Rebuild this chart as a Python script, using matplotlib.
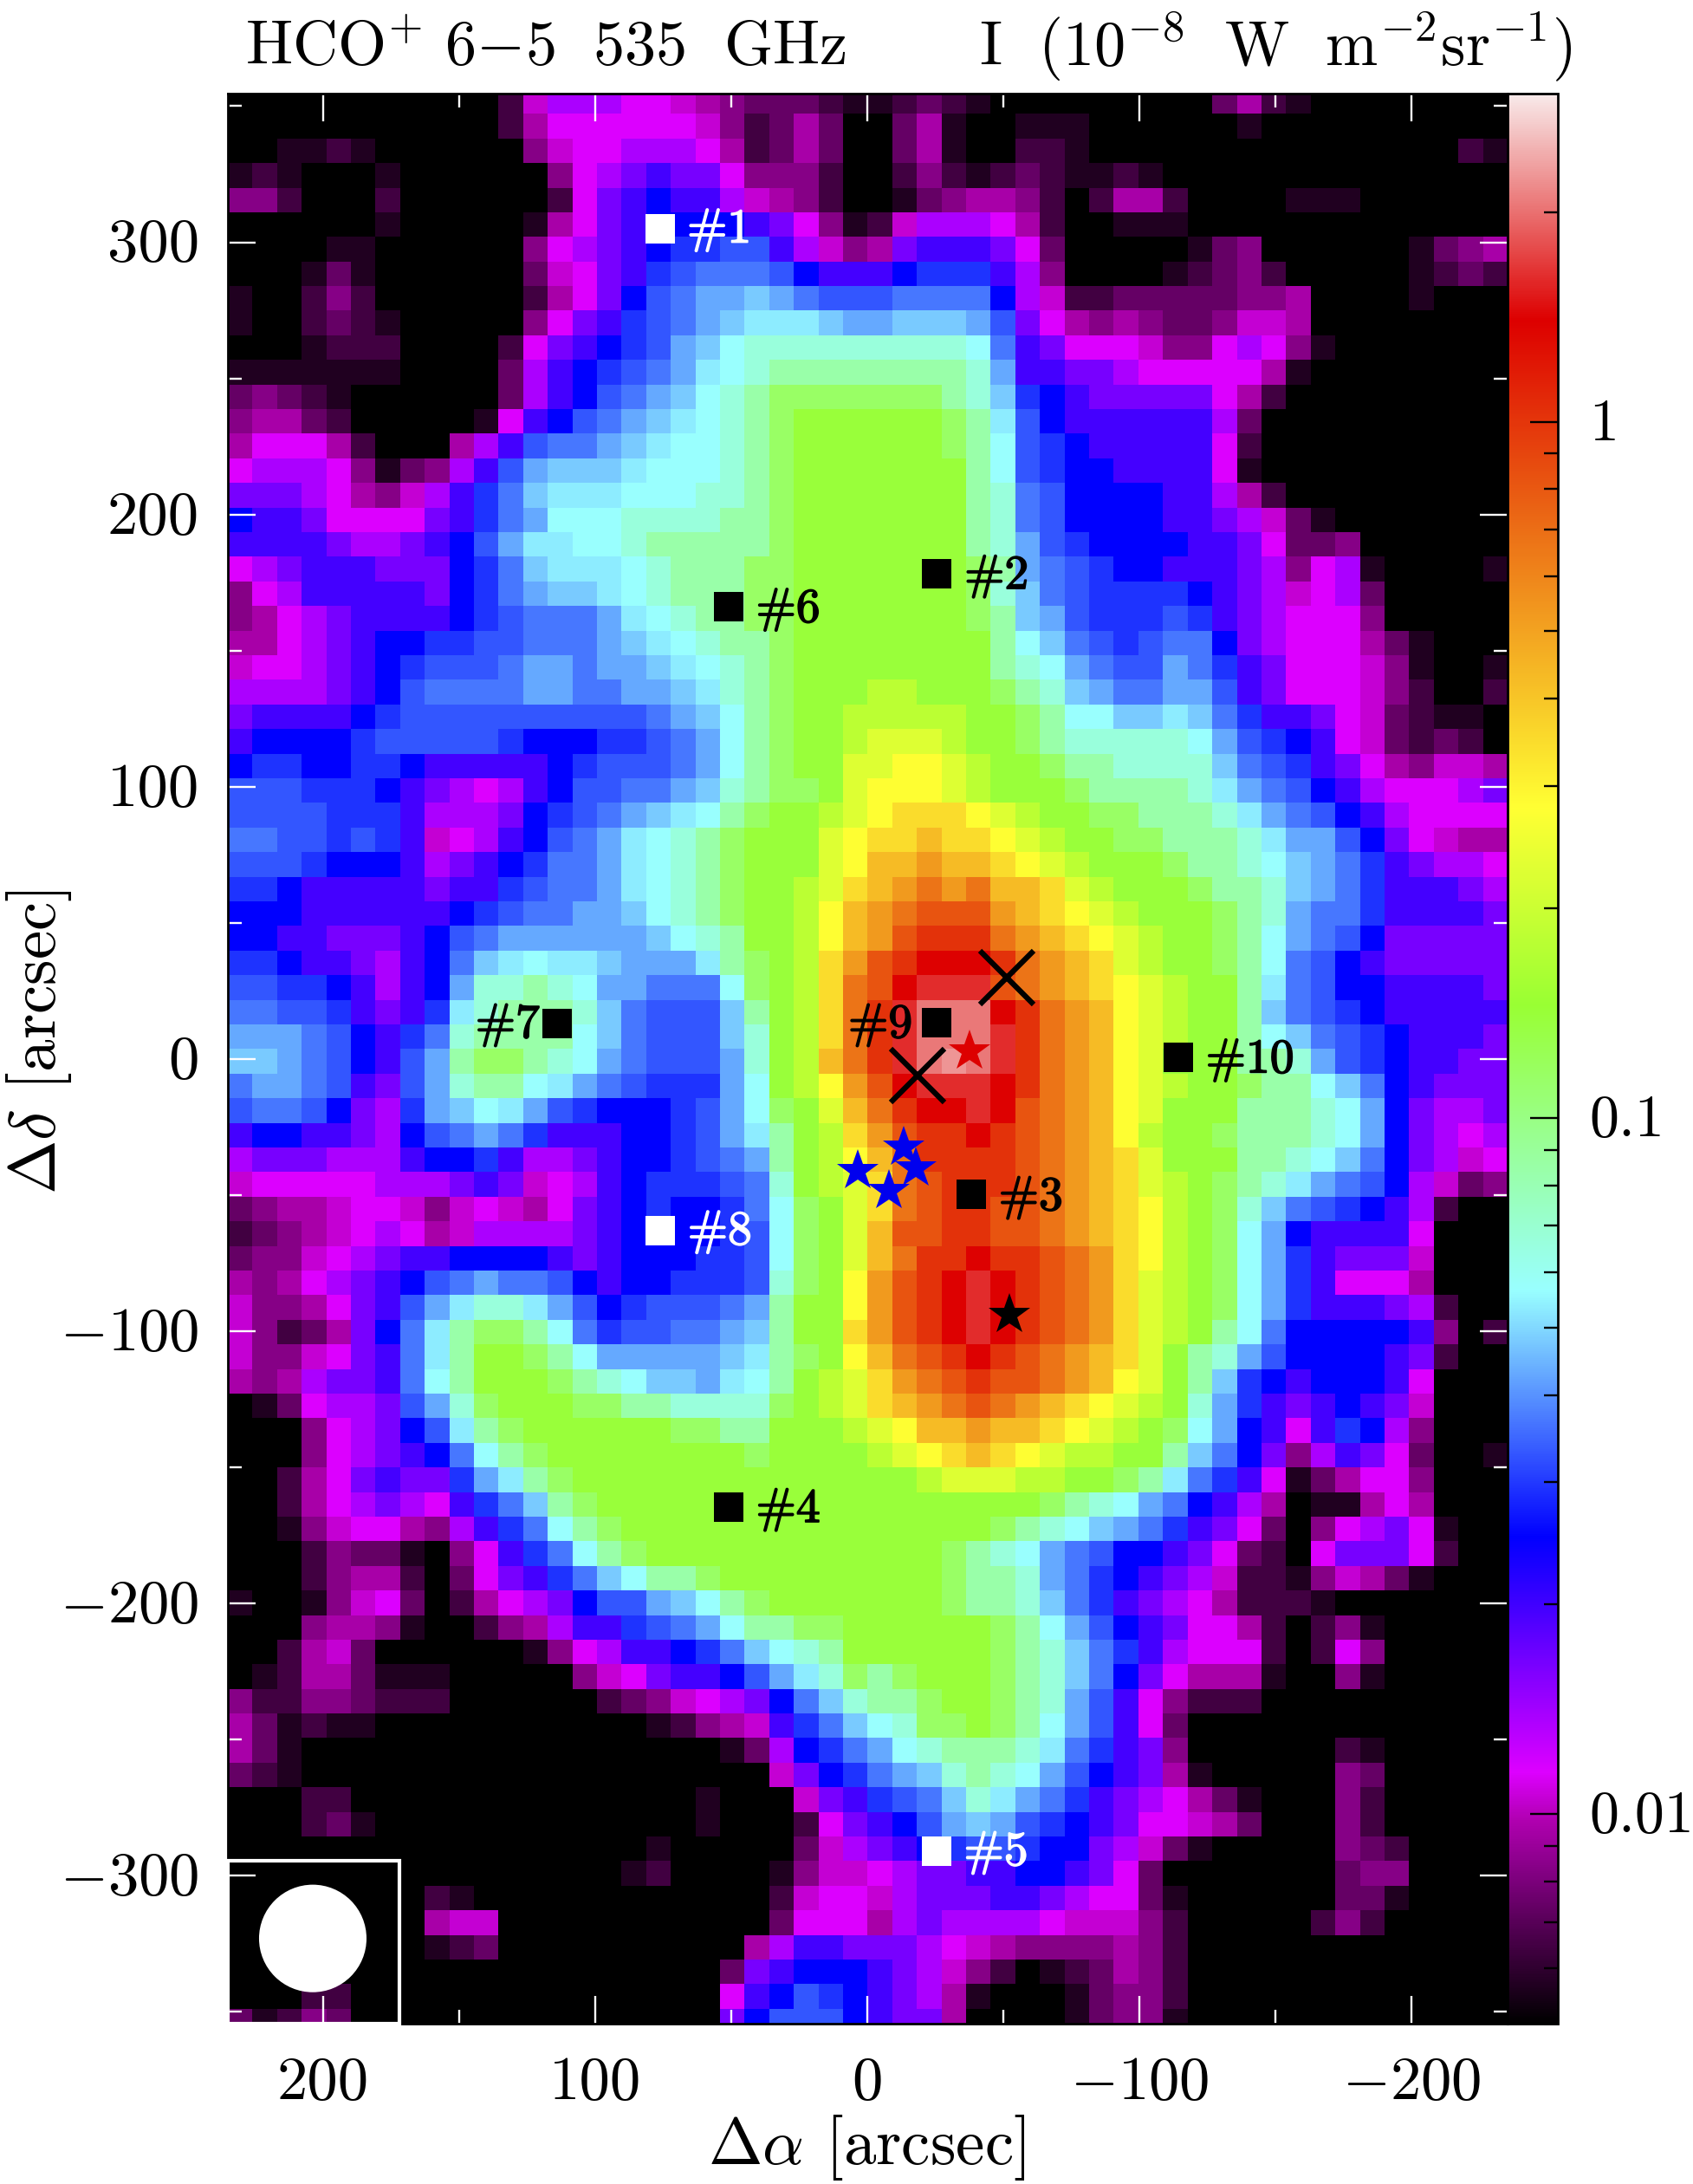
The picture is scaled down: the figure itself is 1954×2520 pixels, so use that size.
import matplotlib
matplotlib.use("Agg")
import matplotlib.pyplot as plt
import matplotlib.patheffects as pe
import numpy as np
from matplotlib.colors import LinearSegmentedColormap, LogNorm
from matplotlib.patches import Ellipse, Rectangle
from matplotlib.ticker import LogLocator, NullFormatter
from matplotlib.transforms import ScaledTranslation

plt.rcParams["font.family"] = "cmr10"
plt.rcParams["mathtext.fontset"] = "cm"
plt.rcParams["axes.formatter.use_mathtext"] = True

# each letter is a colour, as a fraction of its height
level_chars = ".abcdefghijklmnopqrstuvwxyzABCDEFGHI"
level_fracs = [0.0, 0.02, 0.04, 0.061, 0.081, 0.101, 0.117, 0.13, 0.158, 0.186,
               0.2145, 0.252, 0.278, 0.295, 0.312, 0.337, 0.354, 0.371, 0.38,
               0.4046, 0.4415, 0.4906, 0.522, 0.5617, 0.5958, 0.63, 0.664,
               0.697, 0.73, 0.767, 0.799, 0.833, 0.883, 0.905, 0.943, 0.958]

# map columns 0-25, top row first
rows_left = [
    "...........b" "fhhhggfedcccba",
    "...........b" "eggggggfdbcec.",
    "..aaba......" "dfgghhhgebcec.",
    "aba...a......" "dghijiigdddb.",
    "ddb...b......" "bgijkjjhfedb.",
    "......a.....a" "egijkkkkjigda",
    "....aa......d" "ghijkllmmjhfd",
    "...aca......c" "fgijlmnnnmkjj",
    "a..bdb......b" "egikmnooponmm",
    "a..bcba.....d" "gijlmnopqqqpo",
    "...abbb....bg" "ijklmoprsssss",
    "aaaaaaa....ch" "jklmnoqrstttt",
    "cdcba......ch" "jkmnoprstuuuu",
    "deecb.....agj" "kmnopqrstuvvv",
    "egggeb...ehjm" "nnopqrrstuvvv",
    "ghhhgdacdhjmo" "pppqrrrstuvvv",
    "iiihgedfhjlnp" "qqqrrrsstuvvv",
    "kjjiggggijlno" "rrrssssttuvvv",
    "jjjjihhijkmoq" "qrrstttttuvvv",
    "ghijjjiiiklnp" "qqqrstttuuvvv",
    "dghjjjjjiklno" "ppqrstttuuvvv",
    "deghijjjjklmn" "nnoqrsttuuvvv",
    "eeghijkkllmmn" "nnopqrsttuvvv",
    "fgghijklmmmno" "onoopqrstuvvv",
    "hhhhijkmnnnno" "onnoopqstuvvv",
    "ijjjjklmmmmmm" "mmmmnoprtuvvw",
    "jkkkklmmmmmlk" "kkllmnortuvvw",
    "kllkkllkjjjjj" "klmmmnortuvvx",
    "mmmlllkjihghj" "kmmnnopstuuvx",
    "mmmmllljhhhik" "lmnopqrtuvvwx",
    "nnmmlmljfghjk" "mnoqrstuvvvxy",
    "mmmlkkkjhijkl" "nnoqrstuvvvxy",
    "llkjjjjjijjlm" "nnoqrstuvvwxz",
    "kkkjjjjjjklmn" "nooprstuvvwyA",
    "kkjjiiijkmnoo" "ooooprstvvwyA",
    "llkjjihjknpqr" "qqpoooqtuvwzB",
    "mmllkjhjkosst" "sroonnnruvwzC",
    "nnmmljijlqstt" "tspnmmmptvwzC",
    "ooonmkjlnsttt" "trpnmmmpsvwzC",
    "pponmkjmotuut" "sronmmmosvwAC",
    "noonmjimosttr" "qonmlllorvwyB",
    "mnnmkihloprqo" "mlkkklmoruvxA",
    "jkkjjihkmnonl" "jjjkklmoqtvwz",
    "hiiihhhjkkljh" "hijkklmnotvwy",
    "fggggghhhijif" "ghjklllmnsvwx",
    "cdeefggfdfgfe" "gijklkklnruvx",
    "bcdefghgefhhh" "hijkkkklmruvx",
    "cddfghijjkkkk" "jijkkkllmruvx",
    "edeghijkmnonn" "mkjkklllmsuvy",
    "fddegijmoqssq" "omklmmmnotvvy",
    "fdbceiknqtuut" "rnlmmnnoptvvz",
    "fddfgijnqtvvu" "trooooopqtuvy",
    "edehiijnrtvvv" "utsrppoqrtvwx",
    ".acghhimosuvv" "vuuttssssuvwx",
    "...dghikmqtuv" "vvvvvuuttvvvw",
    "...dghijknrtu" "vvvvvvvvuvvvv",
    "..begijiiloqt" "uvvvvvvvvvvvv",
    "..beghihgjlnp" "tuvvvvvvvvvvv",
    "..adfggedhjln" "rtuvvvvvvvvvv",
    "...bdcca.dgjl" "nrtuvvvvvvvvv",
    "...bdeeb.cgij" "lnprttuvvvvvv",
    "a..adfgc.begh" "ikmmoprtuvvvv",
    "...deeda..bde" "hjjlmnorttuuv",
    "..befc......a" "dghjjklnprstv",
    ".abeecaaa...." ".dfgijjkmoqsu",
    "dbbddcbbb...." "..bcdfghiknps",
    "ecabaa......." "....abdefjlnp",
    "eca.........." ".......achkln",
    "cba.........." ".........fikl",
    "...bb........" "......a...fij",
    "...bca......." "......a...bgi",
    "............." "....a.....cfh",
    "............." "...ab....adff",
    "........ba..." ".........bfgg",
    "........eff.." ".........cggg",
    "........abc.." "........ehjji",
    "............." ".......cijkkk",
    "...bb........" ".......gjkmlk",
    "cabdc........" ".......ikmmmk",
]

# map columns 26-51, top row first
rows_right = [
    "abcba.........ceba........",
    ".cea..aaa......a..........",
    ".cea..bba...............ba",
    ".bdbabcbaaba..............",
    ".acdeedb.beeb....aaa......",
    "bfhhhgeb..aaa.............",
    "eijjjigc.....acd......acde",
    "jkllljhd....abcdb.....abcb",
    "mnnnnkhfbbcccccdde....a...",
    "opppomigededccdffe........",
    "ssssrnjigggfddghgda.......",
    "ttttsojjiihgggggea........",
    "uuutsplkjiiiiigeb.........",
    "vvvutqmkjjjjjjhc..........",
    "vvvutrmlkjjjjjgb..........",
    "vvvvtrmlkkjjjjga..........",
    "vvvvtsnmkkkkjjheb.........",
    "vvvvtsnmkkkkjjihfca.......",
    "vvvvtsomlkkkkjjigccd......",
    "vvvvutonmlkkjjjihdgha....a",
    "vvvvuspnmllllkjihfghc.....",
    "vvvvutpomlllmljihgggd.....",
    "vvvvvtrpnmlmnnkihgggeca...",
    "vvvvvtsronmmonljigggfda..a",
    "wwvvvutsponnoomjigggfdb..b",
    "wwwwvvutrrppqpnljjigfcbaa.",
    "xxxwvvutsssssromlkjgfcbcb.",
    "xyyxwvvuttsssspnmljigedffe",
    "yyyxwvvvuttttsqonmkjhggghi",
    "yzzzyxwvvuutttsqonmkjhgggg",
    "zzAzzyxwvvuutttsqoomkigfee",
    "AABAAzyxwvvvuttsrponljihhg",
    "ABCBCAAzxwvvvuttsponljjjih",
    "BCDDDBAzyxwvvvutsonnljjjji",
    "BDEEECBAzyxwvvutronmkiiiii",
    "DEFFFECBAzxwvvutrnmkjiiiii",
    "DFGGGDCBAzyxwvvtqnmkkjjjji",
    "EGHHHFECBAyxwvvtpnmlkjjjjj",
    "EGHHHGECBAyxwvvtrpnmlkjjji",
    "EGHIHGECBAyxvvvttsomlkjjii",
    "DFGGGFECBAyxwvvuttrpnkjiii",
    "CEFFGFDCBAyxvvvtttsrokihhi",
    "BDEEFEDCBAywvvutttsrokihgh",
    "ACEEEEDCBAzxvvvttsrpnkihfg",
    "zCDEEEDCBAzxwvutsqonmkhfcd",
    "zCDEEDDCBAzywvuspnmlkjhb..",
    "ADDEEDDCBAzywvurokjjjjg...",
    "ACEEFEEDCBzywvuroljiiif...",
    "BDEFGFEDCBzxwvuroljggge...",
    "BDEFGFEDCBzxwvuroljjjihb..",
    "BDEFGFEDCBzxwvtrnkkkkkjd.b",
    "ACDEFEDCBAzxvtsomkkkkjib..",
    "zBCDEDDCBAyxvtplkjkkkjg...",
    "zABCDCBAzyxwvsoljijkjif...",
    "xyAABAAzyxwvurokjgjlkhd...",
    "wxyzAzyxwwvvtpnkidhjigc..a",
    "vvwxxxwwvvutqnljgaceggd...",
    "vvvvvvvutsronkjhe.aaege...",
    "vvvvvutsrponljigc.dghiga..",
    "vvvutsronmkkjigcb.giiigb..",
    "vvvuttsonlkjihfbbadfeca...",
    "vvvuttspnljihgebbba.......",
    "vvvvvutromkjiggeb.bda.....",
    "vvvvvutspnljhgggb.bgd.....",
    "tuvvvutspnkigeeea..da.....",
    "ttuvvutsomjgdbbb..........",
    "rsuuvutromjgc.............",
    "orstttsqnljid......ba.....",
    "nopstsromkjiea.....dc.....",
    "lmnpsqonljihgeca...db.....",
    "jkmopomlkjiggfec...db.....",
    "ijklmmlkkihfca.....dcb....",
    "ghiijjkkjigc.......cdd....",
    "fhiiijjihggca......cca....",
    "ehihhhhgfffdb.....bdb.....",
    "iihgfeddddedb.............",
    "jihfdb.abcedb.............",
    "jihea...acddb.............",
    "jiie....acdda.............",
]

vmin, vmax = 0.005, 2.96

# squares with their labels
source_names = ["#1", "#2", "#3", "#4", "#5", "#6", "#7", "#8", "#9", "#10"]
source_x = [76, -25.4, -38.2, 50.8, -25.5, 50.8, 114, 76.2, -25.5, -114.4]
source_y = [305, 178.3, -49.8, -164.7, -291, 166, 13, -63, 13.4, 0.6]
source_colors = ["white", "black", "black", "black", "white", "black", "black", "white", "black", "black"]
label_x = [66.2, -35.7, -48.3, 40.9, -35.5, 40.9, 144, 66, 7, -124.4]
label_y = [300, 172.8, -55.4, -170, -296, 160.6, 8, -68, 8, -4.9]

blue_star_x = [-13.3, -17.8, -7.9, 3.5]
blue_star_y = [-32.5, -40.2, -48.3, -41.2]
cross_x = [-51.4, -18.5]
cross_y = [30, -5.9]

cmap = LinearSegmentedColormap.from_list("hco", [
    (0.0, "#000000"), (0.105, "#b000b0"), (0.13, "#dd00ff"), (0.252, "#0000ff"),
    (0.38, "#99ffff"), (0.5275, "#99ff33"), (0.63, "#ffff33"), (0.883, "#dd0000"),
    (1.0, "#f8eaea")], N=1024)

assert len(rows_left) == 79 and len(rows_right) == 79
assert all(len(r) == 26 for r in rows_left + rows_right)

frac_of = dict(zip(level_chars, level_fracs))
rows = [a + b for a, b in zip(rows_left, rows_right)]
frac = np.array([[frac_of[ch] for ch in row] for row in rows])
intensity = vmin * (vmax / vmin) ** frac

fig = plt.figure(figsize=(19.54, 25.2), dpi=100)
W, H = 1954.0, 2520.0
ax = fig.add_axes([263 / W, 1 - 2335 / H, 1477 / W, 2227 / H])
cax = fig.add_axes([1740 / W, 1 - 2335 / H, 58 / W, 2227 / H])

im = ax.imshow(intensity, cmap=cmap, norm=LogNorm(vmin, vmax), aspect="auto",
               interpolation="nearest", extent=(235, -235.3, -357.9, 356.2))
ax.set_xlim(235, -235.3)
ax.set_ylim(-354.3, 354.6)

ax.set_xticks([200, 100, 0, -100, -200])
ax.set_xticklabels(["200", "100", "0", "$-100$", "$-200$"])
ax.set_xticks([150, 50, -50, -150], minor=True)
ax.set_yticks([300, 200, 100, 0, -100, -200, -300])
ax.set_yticklabels(["300", "200", "100", "0", "$-100$", "$-200$", "$-300$"])
ax.set_yticks([350, 250, 150, 50, -50, -150, -250, -350], minor=True)
ax.tick_params(which="both", direction="in", top=True, right=True, color="white", width=1.7)
ax.tick_params(which="major", length=23, labelsize=51)
ax.tick_params(which="minor", length=11.5)
ax.tick_params(axis="x", which="major", pad=27)
ax.tick_params(axis="y", which="major", pad=24)
for spine in ax.spines.values():
    spine.set_linewidth(2)

# labels sit a little high in the original
up = ScaledTranslation(0, 3 / 100, fig.dpi_scale_trans)
for t in ax.get_yticklabels():
    t.set_transform(t.get_transform() + up)

# beam
ax.add_patch(Rectangle((172, -354.3), 63, 59.9, fc="none", ec="white", lw=3, zorder=6, clip_on=False))
ax.add_patch(Ellipse((203.8, -323), 39.5, 39.5, fc="white", ec="none", zorder=6))

for name, x, y, c, lx, ly in zip(source_names, source_x, source_y, source_colors, label_x, label_y):
    ax.plot(x, y, "s", color=c, ms=25, mew=0, zorder=5)
    ax.text(lx, ly, name, color=c, fontsize=40, ha="left", va="baseline", zorder=5,
            path_effects=[pe.withStroke(linewidth=1.2, foreground=c)])

ax.plot(blue_star_x, blue_star_y, "*", color="#0000ee", ms=36, mew=0, ls="none", zorder=5)
ax.plot(-37.5, 3, "*", color="#dd0000", ms=36, mew=0, zorder=5)
ax.plot(-52.2, -94, "*", color="black", ms=36, mew=0, zorder=5)
ax.plot(cross_x, cross_y, "x", color="black", ms=45, mew=4.5, ls="none", zorder=5)

cb = fig.colorbar(im, cax=cax)
cb.set_ticks([1, 0.1, 0.01])
cb.set_ticklabels(["1", "0.1", "0.01"])
cb.ax.yaxis.set_minor_locator(LogLocator(base=10, subs=[2, 3, 4, 5, 6, 7, 8, 9], numticks=12))
cb.ax.yaxis.set_minor_formatter(NullFormatter())
cax.tick_params(which="both", direction="in", color="black", width=1.7)
cax.tick_params(which="major", length=23, labelsize=49, pad=26)
cax.tick_params(which="minor", length=11.5)
cb.outline.set_linewidth(2)
for t in cax.get_yticklabels():
    t.set_transform(t.get_transform() + up)

fig.text(283 / W, 1 - 75 / H, r"$\mathrm{HCO^{+}\ 6{-}5\ \ 535\ \ GHz}$",
         fontsize=52, ha="left", va="baseline")
fig.text(1130 / W, 1 - 75 / H, r"$\mathrm{I\ \ (10^{-8}\ \ W\ \ m^{-2}sr^{-1})}$",
         fontsize=52, ha="left", va="baseline")
fig.text(1000 / W, 1 - 2497 / H, r"$\Delta\alpha$ [arcsec]", fontsize=54, ha="center", va="baseline")
fig.text(64 / W, 1 - 1202 / H, r"$\Delta\delta$ [arcsec]", fontsize=54, rotation=90,
         ha="center", va="baseline", rotation_mode="anchor")

fig.savefig("out.png", dpi=100)
